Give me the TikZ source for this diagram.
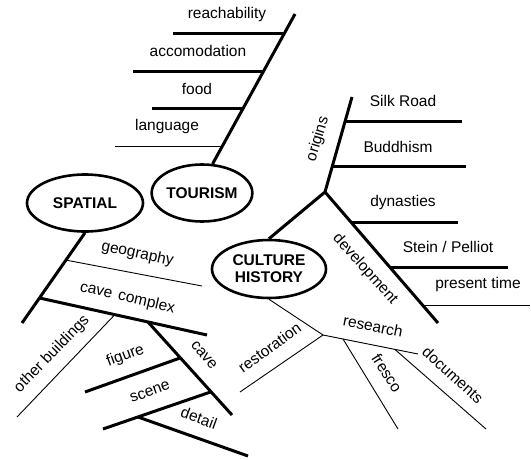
\documentclass[tikz,border=0pt]{standalone}
\usepackage{fontspec}
\setmainfont{Liberation Sans}
\usetikzlibrary{shapes.geometric}

\newcommand{\labfont}{\fontsize{15.5}{18}\selectfont}

\begin{document}
\begin{tikzpicture}[x=1pt, y=-1pt,
    bone/.style={line width=3pt},
    twig/.style={line width=0.9pt},
    lab/.style={font=\labfont, inner sep=0pt},
    topic/.style={ellipse, draw, line width=2.6pt, inner sep=0pt, align=center, font=\labfont\bfseries}]
    \useasboundingbox (0,0) rectangle (531,459);

    \node[topic, minimum width=95pt, minimum height=57pt] (tourism) at (202,193) {TOURISM};
    \node[topic, minimum width=116pt, minimum height=57pt] (spatial) at (85,203) {SPATIAL};
    \node[topic, minimum width=114pt, minimum height=58pt] (culture) at (269,269) {CULTURE\\[-1pt]HISTORY};

    % tourism
    \coordinate (tourtop) at (295,14);
    \coordinate (reachA) at (284.5,33);  \coordinate (reachB) at (173,33);
    \coordinate (accoA) at (263.5,71);   \coordinate (accoB) at (133,71);
    \coordinate (foodA) at (243.5,108);  \coordinate (foodB) at (152,108);
    \coordinate (langA) at (222.5,146);  \coordinate (langB) at (115,146);
    \draw[bone] (tourism.70) -- (tourtop);
    \foreach \a/\b/\s in {reachA/reachB/bone, accoA/accoB/bone, foodA/foodB/bone, langA/langB/twig}
        \draw[\s] (\a) -- (\b);
    \node[lab] (reach) at (227,14) {reachability};
    \node[lab] (acco) at (198,51) {accomodation};
    \node[lab] (food) at (197,89) {food};
    \node[lab] (lang) at (167,126) {language};

    % spatial
    \coordinate (spbot) at (22,323);
    \coordinate (geoA) at (65.5,260);   \coordinate (geoB) at (202,286);
    \coordinate (cplxA) at (39.5,298);  \coordinate (cplxB) at (207,335);
    \coordinate (othA) at (115,314.5);  \coordinate (othB) at (17,417);
    \coordinate (caveA) at (148,322);   \coordinate (caveB) at (232,415);
    \coordinate (figA) at (180,358);    \coordinate (figB) at (85,392);
    \coordinate (scnA) at (210.5,392);  \coordinate (scnB) at (103,429);
    \coordinate (detA) at (138,417);    \coordinate (detB) at (248,456);
    \draw[bone] (spatial.south) -- (spbot);
    \foreach \a/\b/\s in {geoA/geoB/twig, cplxA/cplxB/bone, othA/othB/twig, caveA/caveB/bone,
                          figA/figB/bone, scnA/scnB/bone, detA/detB/bone}
        \draw[\s] (\a) -- (\b);
    \node[lab, rotate=-12] (geo) at (137.5,254) {geography};
    \node[lab, rotate=-13] (cplx) at (127.5,298) {cave\hspace{2pt} complex};
    \node[lab, rotate=46] (oth) at (52,354) {other buildings};
    \node[lab, rotate=-50] (cave) at (204,355) {cave};
    \node[lab, rotate=20] (fig) at (125.5,356) {figure};
    \node[lab, rotate=20] (scn) at (150,392) {scene};
    \node[lab, rotate=-20] (det) at (199,418) {detail};

    % culture history
    \coordinate (chjoin) at (325,192);
    \coordinate (origtop) at (352,97);
    \coordinate (devend) at (438,323);
    \coordinate (silkA) at (345,121);   \coordinate (silkB) at (462,121);
    \coordinate (budA) at (332.5,166);  \coordinate (budB) at (466,166);
    \coordinate (dynA) at (351,222);    \coordinate (dynB) at (458,222);
    \coordinate (steinA) at (390,267);  \coordinate (steinB) at (508,267);
    \coordinate (presA) at (422.5,305); \coordinate (presB) at (530,305);
    \draw[bone] (culture.north) -- (chjoin) -- (origtop);
    \draw[bone] (chjoin) -- (devend);
    \foreach \a/\b/\s in {silkA/silkB/bone, budA/budB/bone, dynA/dynB/bone, steinA/steinB/bone, presA/presB/twig}
        \draw[\s] (\a) -- (\b);
    \node[lab, rotate=73] (orig) at (318,139) {origins};
    \node[lab, rotate=-48] (dev) at (365,269) {development};
    \node[lab] (silk) at (403,100.5) {Silk Road};
    \node[lab] (bud) at (398,146.5) {Buddhism};
    \node[lab] (dyn) at (403,202) {dynasties};
    \node[lab] (stein) at (448,247) {Stein / Pelliot};
    \node[lab] (pres) at (478,284) {present time};

    % research
    \coordinate (rjoin) at (323,335);
    \coordinate (resB) at (418,354);
    \coordinate (restB) at (240,392);
    \coordinate (frA) at (343,339);     \coordinate (frB) at (398,429);
    \coordinate (docA) at (395,349.5);  \coordinate (docB) at (486,429);
    \draw[twig] (culture.south) -- (rjoin) -- (resB);
    \foreach \a/\b in {rjoin/restB, frA/frB, docA/docB}
        \draw[twig] (\a) -- (\b);
    \node[lab, rotate=-11] (res) at (373,326) {research};
    \node[lab, rotate=36] (rest) at (269.5,347.5) {restoration};
    \node[lab, rotate=-57] (fr) at (387,373) {fresco};
    \node[lab, rotate=-42] (doc) at (453,375) {documents};
\end{tikzpicture}
\end{document}
